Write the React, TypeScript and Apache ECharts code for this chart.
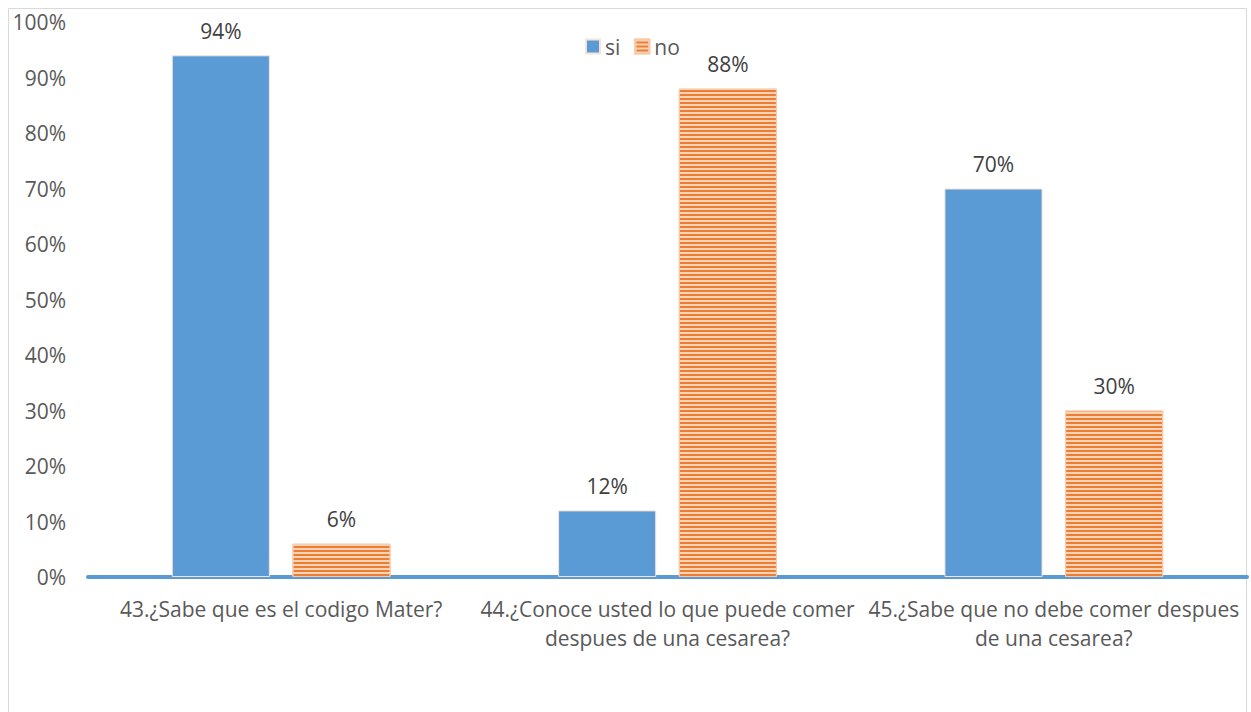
import React, { useEffect, useRef } from "react";
import * as echarts from "echarts";

const categories = [
  "43.¿Sabe que es el codigo Mater?",
  "44.¿Conoce usted lo que puede comer\ndespues de una cesarea?",
  "45.¿Sabe que no debe comer despues\nde una cesarea?",
];
const siValues = [94, 12, 70];
const noValues = [6, 88, 30];
const seriesNames = ["si", "no"];

export default function App() {
  const ref = useRef<HTMLDivElement>(null);
  useEffect(() => {
    const chart = echarts.init(ref.current!, undefined, { renderer: "svg" });
    const font = "'Open Sans', 'Noto Sans', sans-serif";
    const decal = {
      symbol: "rect",
      symbolSize: 1,
      dashArrayX: [1, 0],
      dashArrayY: [1.5, 2],
      rotation: 0,
      color: "rgba(252, 222, 200, 0.9)",
    };
    chart.setOption({
      animation: false,
      backgroundColor: "#ffffff",
      textStyle: { fontFamily: font },
      graphic: [
        {
          type: "rect",
          shape: { x: 8.5, y: 8.5, width: 1238, height: 720 },
          style: { fill: "none", stroke: "#d9d9d9", lineWidth: 1 },
          silent: true,
        },
      ],
      legend: {
        data: seriesNames,
        top: 31,
        left: 580,
        icon: "rect",
        itemWidth: 14,
        itemHeight: 14,
        itemGap: 14,
        textStyle: { fontSize: 21, color: "#595959", fontFamily: font },
      },
      grid: { left: 88, right: 4, top: 22, bottom: 135 },
      xAxis: {
        type: "category",
        data: categories,
        axisLine: { lineStyle: { color: "#5B9BD5", width: 4 } },
        axisTick: { show: false },
        axisLabel: {
          fontSize: 21,
          color: "#595959",
          margin: 17,
          lineHeight: 29,
          interval: 0,
          fontFamily: font,
        },
      },
      yAxis: {
        type: "value",
        min: 0,
        max: 100,
        interval: 10,
        splitLine: { show: false },
        axisLine: { show: false },
        axisTick: { show: false },
        axisLabel: {
          formatter: "{value}%",
          fontSize: 21,
          color: "#595959",
          margin: 22,
          fontFamily: font,
        },
      },
      series: [
        {
          name: seriesNames[0],
          type: "bar",
          data: siValues,
          barWidth: "25.4%",
          barGap: "23%",
          itemStyle: { color: "#5B9BD5", borderColor: "#f6e3d6", borderWidth: 1 },
          label: {
            show: true,
            position: "top",
            distance: 14,
            formatter: "{c}%",
            fontSize: 21,
            color: "#404040",
            fontFamily: font,
          },
        },
        {
          name: seriesNames[1],
          type: "bar",
          data: noValues,
          barWidth: "25.4%",
          itemStyle: {
            color: "#ED7D31",
            borderColor: "#f6c9a8",
            borderWidth: 1,
            decal,
          },
          label: {
            show: true,
            position: "top",
            distance: 14,
            formatter: "{c}%",
            fontSize: 21,
            color: "#404040",
            fontFamily: font,
          },
        },
      ],
    });
    return () => chart.dispose();
  }, []);
  return (
    <div
      ref={ref}
      style={{ position: "absolute", left: 0, top: 0, width: 1251, height: 712 }}
    />
  );
}
